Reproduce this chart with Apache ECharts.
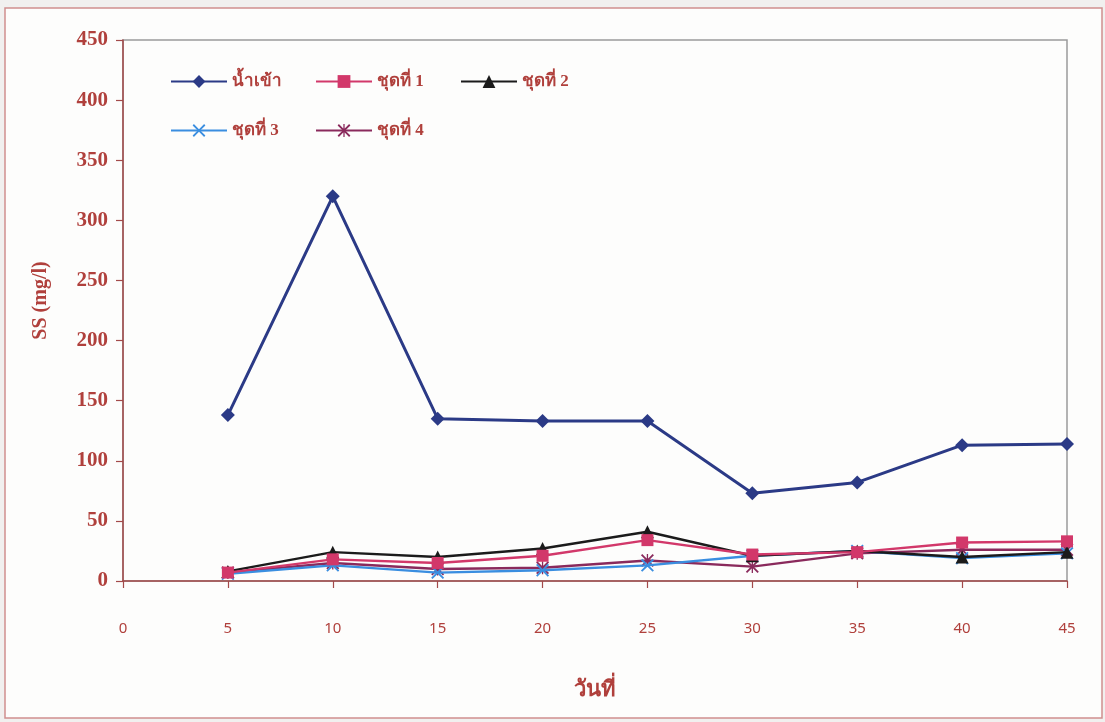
<!DOCTYPE html>
<html>
<head>
<meta charset="utf-8">
<style>
  html, body { margin: 0; padding: 0; background: #f1f0ef; }
  #chart { width: 1105px; height: 722px; }
</style>
<script src="https://cdn.jsdelivr.net/npm/echarts@6/dist/echarts.min.js"></script>
</head>
<body>
<div id="chart"></div>
<script>
// Sampling days (x values)
const days = [5, 10, 15, 20, 25, 30, 35, 40, 45];

// Suspended solids, mg/l
const inflow = [138, 320, 135, 133, 133, 73, 82, 113, 114];
const set1 = [7, 18, 15, 21, 34, 22, 24, 32, 33];
const set2 = [8, 24, 20, 27, 41, 21, 25, 20, 24];
const set3 = [6, 13, 7, 9, 13, 21, 25, 19, 23];
const set4 = [7, 15, 10, 11, 17, 12, 23, 26, 26];

const seriesNames = ['น้ำเข้า', 'ชุดที่ 1', 'ชุดที่ 2', 'ชุดที่ 3', 'ชุดที่ 4'];

// Axis ticks
const xMin = 0, xMax = 45, xStep = 5;
const yMin = 0, yMax = 450, yStep = 50;

const axisRed = '#a34a4a';
const textRed = '#b0403c';
const serif = '"Liberation Serif", "DejaVu Serif", serif';

// Marker shapes drawn as filled outlines
const crossPath = 'path://M0,2 L2,0 L10,8 L18,0 L20,2 L12,10 L20,18 L18,20 L10,12 L2,20 L0,18 L8,10 Z';
const starPath = 'path://M0,2 L2,0 L10,8 L18,0 L20,2 L12,10 L20,18 L18,20 L10,12 L2,20 L0,18 L8,10 Z M9,0 L11,0 L11,20 L9,20 Z';

const pair = vals => vals.map((v, i) => [days[i], v]);

const styles = [
  { color: '#2b3a86', symbol: 'diamond', size: 14, width: 3 },
  { color: '#d2386a', symbol: 'rect', size: 12, width: 2.4 },
  { color: '#1b1b1b', symbol: 'triangle', size: 13, width: 2.4 },
  { color: '#3a8ee0', symbol: crossPath, size: 13, width: 2.4 },
  { color: '#8a2a5c', symbol: starPath, size: 13, width: 2.4 }
];
const values = [inflow, set1, set2, set3, set4];

const series = values.map((vals, i) => ({
  name: seriesNames[i],
  type: 'line',
  data: pair(vals),
  symbol: styles[i].symbol,
  symbolSize: styles[i].size,
  showAllSymbol: true,
  z: 10 - i,
  lineStyle: { color: styles[i].color, width: styles[i].width },
  itemStyle: { color: styles[i].color, borderWidth: 0 },
  emphasis: { disabled: true }
}));

// One legend entry per slot, laid out in two rows
const legendSlots = [
  { left: 170, top: 73 },
  { left: 315, top: 73 },
  { left: 460, top: 73 },
  { left: 170, top: 122 },
  { left: 315, top: 122 }
];
const legends = legendSlots.map((pos, i) => ({
  data: [seriesNames[i]],
  left: pos.left,
  top: pos.top,
  padding: 0,
  itemWidth: 56,
  itemHeight: 16,
  itemGap: 0,
  selectedMode: false,
  textStyle: { color: textRed, fontFamily: serif, fontSize: 17, fontWeight: 'bold' }
}));

const chart = echarts.init(document.getElementById('chart'), null, { renderer: 'canvas' });
chart.setOption({
  backgroundColor: '#f1f0ef',
  animation: false,
  graphic: [{
    type: 'rect',
    z: -10,
    shape: { x: 5, y: 8, width: 1097, height: 710 },
    style: { fill: '#fdfdfc', stroke: '#cf8f8f', lineWidth: 1.5 }
  }],
  grid: {
    left: 123, right: 38, top: 40, bottom: 141,
    show: true, borderColor: '#9b9b9b', borderWidth: 1.5, backgroundColor: 'transparent'
  },
  legend: legends,
  xAxis: {
    type: 'value',
    min: xMin, max: xMax, interval: xStep,
    name: 'วันที่',
    nameLocation: 'middle',
    nameGap: 98,
    nameTextStyle: { color: textRed, fontFamily: serif, fontSize: 22, fontWeight: 'bold' },
    axisLine: { show: true, lineStyle: { color: axisRed, width: 1.5 } },
    axisTick: { show: true, inside: false, length: 7, lineStyle: { color: axisRed, width: 1.2 } },
    axisLabel: { margin: 40, color: textRed, fontFamily: '"Noto Sans", "DejaVu Sans", sans-serif', fontSize: 15 },
    splitLine: { show: false }
  },
  yAxis: {
    type: 'value',
    min: yMin, max: yMax, interval: yStep,
    name: 'SS (mg/l)',
    nameLocation: 'middle',
    nameGap: 72,
    nameRotate: 90,
    nameTextStyle: { color: textRed, fontFamily: serif, fontSize: 20, fontWeight: 'bold', padding: [0, 0, 0, 20] },
    axisLine: { show: true, lineStyle: { color: axisRed, width: 1.5 } },
    axisTick: { show: true, inside: false, length: 7, lineStyle: { color: axisRed, width: 1.2 } },
    axisLabel: { margin: 15, color: textRed, fontFamily: serif, fontSize: 21, fontWeight: 'bold' },
    splitLine: { show: false }
  },
  series: series
});
</script>
</body>
</html>
